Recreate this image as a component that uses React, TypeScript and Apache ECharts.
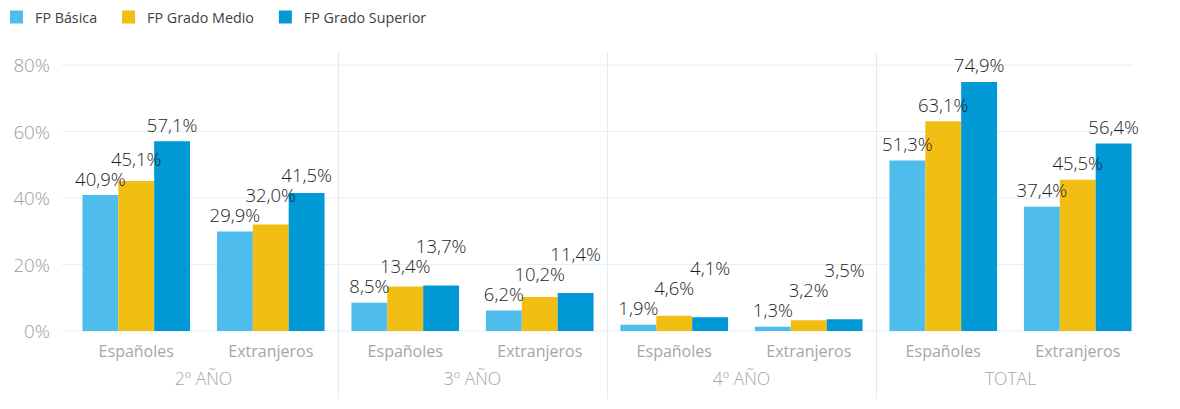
import React, { useEffect, useRef } from "react";
import * as echarts from "echarts";

const categories = [
  "Españoles", "Extranjeros",
  "Españoles", "Extranjeros",
  "Españoles", "Extranjeros",
  "Españoles", "Extranjeros",
];
const groups = ["2º AÑO", "3º AÑO", "4º AÑO", "TOTAL"];
const seriesNames = ["FP Básica", "FP Grado Medio", "FP Grado Superior"];
const fpBasica = [40.9, 29.9, 8.5, 6.2, 1.9, 1.3, 51.3, 37.4];
const fpGradoMedio = [45.1, 32.0, 13.4, 10.2, 4.6, 3.2, 63.1, 45.5];
const fpGradoSuperior = [57.1, 41.5, 13.7, 11.4, 4.1, 3.5, 74.9, 56.4];
const yTicks = [0, 20, 40, 60, 80];

const colors = ["#4ebdec", "#f3be14", "#0099d6"];
const FONT = '"Open Sans", "Noto Sans", sans-serif';

export default function App() {
  const ref = useRef<HTMLDivElement>(null);

  useEffect(() => {
    const chart = echarts.init(ref.current!, null, { renderer: "svg" });
    const values = [fpBasica, fpGradoMedio, fpGradoSuperior];
    const fmt = (v: number) => v.toFixed(1).replace(".", ",") + "%";
    const LABEL_LIFT = 17; // label centre above bar top
    const LABEL_STEP = 20; // min vertical spacing between neighbouring labels

    const makeSeries = (offsets?: number[][]) =>
      seriesNames.map((name, si) => ({
        name,
        type: "bar",
        xAxisIndex: 0,
        yAxisIndex: 0,
        barGap: "0%",
        barCategoryGap: "20%",
        itemStyle: { color: colors[si] },
        label: {
          show: true,
          position: "top",
          distance: LABEL_LIFT - 10,
          formatter: (p: any) => fmt(Number(p.value)),
          color: "#1e1e1e",
          fontSize: 18.5,
          fontWeight: 300,
          lineHeight: 20,
          fontFamily: FONT,
        },
        data: values[si].map((v, ci) =>
          offsets ? { value: v, label: { offset: [0, offsets[si][ci]] } } : v
        ),
      }));

    const option: any = {
      animation: false,
      textStyle: { fontFamily: FONT },
      legend: {
        left: 10,
        top: 10,
        padding: 0,
        icon: "rect",
        itemWidth: 13,
        itemHeight: 13,
        itemGap: 25,
        textStyle: { fontSize: 14.3, color: "#404040", fontFamily: FONT, padding: [0, 0, 0, 7] },
        data: seriesNames,
      },
      grid: { left: 69, right: 35, top: 65, bottom: 78, containLabel: false },
      xAxis: [
        {
          type: "category",
          data: categories,
          axisLine: { show: false },
          axisTick: { show: false },
          axisLabel: { color: "#a6a6a6", fontSize: 16, margin: 12, fontFamily: FONT, interval: 0 },
        },
        {
          type: "category",
          data: groups,
          position: "bottom",
          offset: 0,
          axisLine: { show: false },
          axisTick: { show: false },
          axisLabel: { color: "#a6a6a6", fontSize: 17.5, fontWeight: 300, margin: 38, fontFamily: FONT, interval: 0 },
        },
      ],
      yAxis: {
        type: "value",
        min: 0,
        max: 80,
        interval: 20,
        splitLine: { show: false },
        axisLine: { show: false },
        axisTick: { show: false },
        axisLabel: {
          formatter: "{value}%",
          color: "#9c9c9c",
          fontSize: 18.8,
          fontWeight: 300,
          margin: 19,
          fontFamily: FONT,
        },
      },
      series: makeSeries(),
    };
    chart.setOption(option);

    // second pass: stagger labels to avoid overlaps, draw grid lines and separators
    const toY = (v: number) => chart.convertToPixel({ yAxisIndex: 0 }, v) as number;
    const offsets: number[][] = seriesNames.map(() => categories.map(() => 0));
    categories.forEach((_, ci) => {
      let prev = Infinity;
      seriesNames.forEach((__, si) => {
        const natural = toY(values[si][ci]) - LABEL_LIFT;
        let centre = natural;
        if (centre > prev - LABEL_STEP) centre = prev - LABEL_STEP;
        offsets[si][ci] = centre - natural;
        prev = centre;
      });
    });

    const gridColor = "#e1f0f9";
    const graphics: any[] = yTicks.map((t) => ({
      type: "line",
      z: 0,
      shape: { x1: 62, y1: toY(t), x2: 1132, y2: toY(t) },
      style: { stroke: gridColor, lineWidth: 1 },
      silent: true,
    }));
    for (let g = 0; g < groups.length - 1; g++) {
      const a = chart.convertToPixel({ xAxisIndex: 1 }, g) as number;
      const b = chart.convertToPixel({ xAxisIndex: 1 }, g + 1) as number;
      const x = Math.round((a + b) / 2) + 0.5;
      graphics.push({
        type: "line",
        z: 0,
        shape: { x1: x, y1: 52, x2: x, y2: 399 },
        style: { stroke: "#d8edf9", lineWidth: 1 },
        silent: true,
      });
    }

    chart.setOption({ series: makeSeries(offsets), graphic: graphics });

    return () => chart.dispose();
  }, []);

  return (
    <div
      ref={ref}
      style={{ position: "absolute", left: 0, top: 0, width: 1180, height: 409, background: "#ffffff" }}
    />
  );
}
